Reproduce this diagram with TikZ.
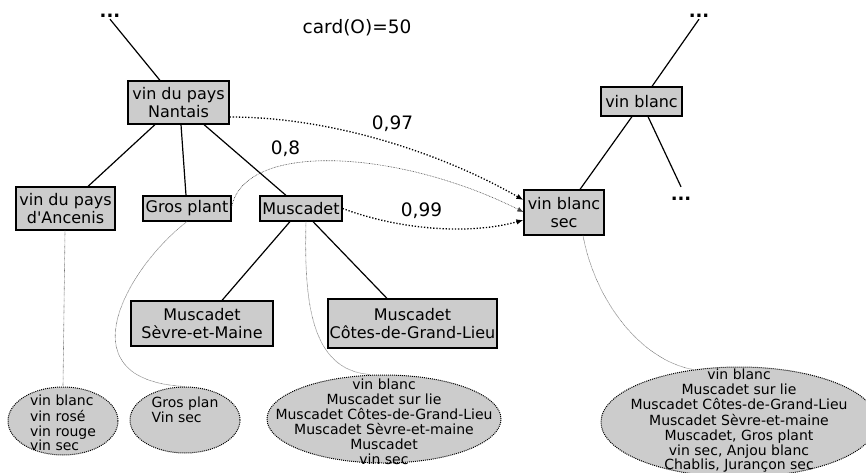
\documentclass[tikz,border=0pt]{standalone}
\usepackage{fontspec}
\setmainfont{DejaVu Sans}[Ligatures=TeXOff]
\usetikzlibrary{arrows.meta,shapes.geometric}
\definecolor{boxgray}{HTML}{CCCCCC}
\definecolor{linkgray}{HTML}{707070}
\newcommand\ovaltext[3]{\raisebox{#1}[0pt][0pt]{\makebox[0pt]{\begin{tabular}{@{}#2@{}}#3\end{tabular}}}}
\begin{document}
\begin{tikzpicture}[x=1pt,y=-1pt,
  box/.style={draw, line width=1.2pt, fill=boxgray, inner sep=0pt, align=center, font=\fontsize{16}{17.5}\selectfont},
  oval/.style={ellipse, draw, fill=boxgray, line width=1pt, dash pattern=on 1pt off 1pt, inner sep=0pt, font=\fontsize{14}{14}\selectfont},
  dots/.style={inner sep=1pt, font=\fontsize{18}{18}\selectfont\bfseries},
  tree/.style={line width=1.2pt},
  sim/.style={line width=1.3pt, dash pattern=on 1.3pt off 1.8pt, -{Latex[length=7pt,width=5.5pt]}},
  simthin/.style={draw=black!75, line width=0.6pt, dash pattern=on 0.7pt off 0.9pt, -{Latex[length=6pt,width=5pt]}},
  ext/.style={draw=linkgray, line width=0.6pt, dash pattern=on 0.6pt off 0.6pt},
  lab/.style={inner sep=1pt, font=\fontsize{18.5}{20}\selectfont}
]
\useasboundingbox (0,0) rectangle (866,473);

% labels and ellipsis marks
\node[lab] (card) at (357,28) {card(O)=50};
\node[dots, anchor=base] (dl) at (110,18) {...};
\node[dots, anchor=base] (dr) at (699,18) {...};
\node[dots, anchor=base, text height=12pt] (drb) at (681,200) {...};

% concept boxes
\node[box, minimum width=101pt, minimum height=43pt] (nantais) at (178.5,102.5) {vin du pays\\Nantais};
\node[box, minimum width=99pt, minimum height=43pt] (ancenis) at (65.5,208.5) {vin du pays\\d'Ancenis};
\node[box, minimum width=88pt, minimum height=25pt] (gros) at (187,208.5) {Gros plant};
\node[box, minimum width=82pt, minimum height=25pt] (musc) at (301,208.5) {Muscadet};
\node[box, minimum width=142pt, minimum height=45pt] (sevre) at (202,323.5) {Muscadet\\Sèvre-et-Maine};
\node[box, minimum width=169pt, minimum height=49pt] (cotes) at (412.5,323.5) {Muscadet\\Côtes-de-Grand-Lieu};
\node[box, minimum width=80pt, minimum height=45pt] (sec) at (564,212.5) {vin blanc\\sec};
\node[box, minimum width=81pt, minimum height=29pt] (blanc) at (641.5,101.5) {vin blanc};

% instance ellipses
\node[oval, minimum width=110pt, minimum height=68pt] (e1) at (63,421)
  {\ovaltext{-7.7pt}{l}{vin blanc\\vin rosé\\vin rouge\\vin sec}};
\node[oval, minimum width=110pt, minimum height=66pt] (e2) at (185,420)
  {\ovaltext{4.8pt}{l}{Gros plan\\Vin sec}};
\node[oval, minimum width=234pt, minimum height=88pt] (e3) at (384,419)
  {\ovaltext{-8.2pt}{c}{vin blanc\\Muscadet sur lie\\Muscadet Côtes-de-Grand-Lieu\\Muscadet Sèvre-et-maine\\Muscadet\\vin sec}};
\node[oval, minimum width=276pt, minimum height=110pt] (e4) at (739,422)
  {\ovaltext{-3.2pt}{c}{vin blanc\\Muscadet sur lie\\Muscadet Côtes-de-Grand-Lieu\\Muscadet Sèvre-et-maine\\Muscadet, Gros plant\\vin sec, Anjou blanc\\Chablis, Jurançon sec}};

% tree edges
\draw[tree] (dl.south) -- ([xshift=-18.5pt]nantais.north);
\draw[tree] ([xshift=-23.5pt]nantais.south) -- ([xshift=22.5pt]ancenis.north);
\draw[tree] ([xshift=2.5pt]nantais.south) -- ([xshift=-1pt]gros.north);
\draw[tree] ([xshift=25.5pt]nantais.south) -- ([xshift=-15pt]musc.north);
\draw[tree] ([xshift=-11pt]musc.south) -- ([xshift=20pt]sevre.north);
\draw[tree] ([xshift=12pt]musc.south) -- ([xshift=-25.5pt]cotes.north);
\draw[tree] (dr.south) -- ([xshift=10.5pt]blanc.north);
\draw[tree] ([xshift=-9.5pt]blanc.south) -- ([xshift=16pt]sec.north);
\draw[tree] ([xshift=6.5pt]blanc.south) -- (drb.north);

% similarity links
\draw[sim] ([yshift=-14.5pt]nantais.east) .. controls (335,117) and (445,155) .. ([yshift=12.5pt]sec.west);
\draw[simthin] ([yshift=1.5pt]gros.east) .. controls (245,140) and (400,150) .. ([yshift=0.5pt]sec.west);
\draw[sim] (musc.east) .. controls (400,230) and (470,235) .. ([yshift=-7.5pt]sec.west);
\node[lab] (l97) at (392.5,124) {0,97};
\node[lab] (l8) at (285.5,149) {0,8};
\node[lab] (l99) at (421.5,211) {0,99};

% extension links
\draw[ext] ([xshift=-0.5pt]ancenis.south) -- (e1.north);
\draw[ext] (gros.south) .. controls (130,265) and (60,380) .. (e2.north);
\draw[ext] ([xshift=5pt]musc.south) .. controls (304,300) and (310,370) .. ([xshift=-14pt]e3.north);
\draw[ext] ([xshift=19pt]sec.south) .. controls (595,300) and (640,360) .. (e4.131);
\end{tikzpicture}
\end{document}
